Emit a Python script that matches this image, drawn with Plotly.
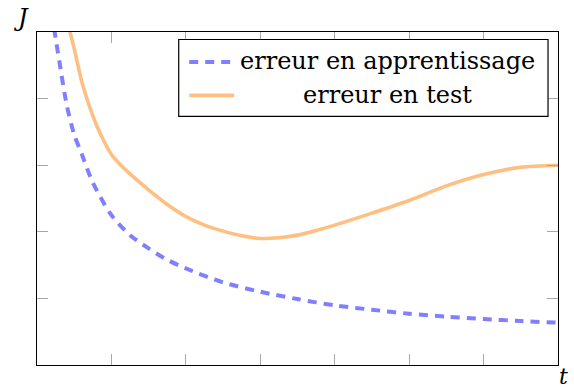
import plotly.graph_objects as go

# Training error curve
t_train = [0.23, 0.25, 0.3, 0.4, 0.5, 0.6, 0.75, 1.0, 1.25, 1.5, 1.75, 2.0,
           2.5, 3.0, 3.5, 4.0, 4.5, 5.0, 5.5, 6.0, 6.5, 7.0]
j_train = [5.05, 4.91, 4.56, 3.90, 3.46, 3.17, 2.74, 2.25, 1.95, 1.75, 1.58, 1.45,
           1.24, 1.10, 0.99, 0.895, 0.83, 0.77, 0.725, 0.69, 0.66, 0.635]

# Test error curve
t_test = [0.43, 0.5, 0.6, 0.7, 0.8, 0.9, 1.0, 1.1, 1.25, 1.5, 1.75, 2.0, 2.25,
          2.5, 2.75, 3.0, 3.25, 3.5, 3.75, 4.0, 4.5, 5.0, 5.5, 6.0, 6.5, 7.0]
j_test = [5.06, 4.75, 4.26, 3.90, 3.60, 3.36, 3.16, 3.03, 2.87, 2.63, 2.41, 2.23, 2.10,
          2.01, 1.94, 1.90, 1.91, 1.95, 2.02, 2.10, 2.28, 2.47, 2.69, 2.86, 2.97, 3.0]

legend_labels = ["erreur en apprentissage", "erreur en test"]
x_ticks = [0, 1, 2, 3, 4, 5, 6, 7]
y_ticks = [0, 1, 2, 3, 4, 5]

BLUE = "#8080ff"
ORANGE = "#ffbf80"
FONT = "DejaVu Serif"

W, H = 574, 392
L, R, T, B = 36.5, 558.5, 31.5, 365.0


def px(x):
    return (x - L) / (R - L)


def py(y):
    return (B - y) / (B - T)


fig = go.Figure()
fig.add_trace(go.Scatter(x=t_train, y=j_train, mode="lines", name=legend_labels[0],
                         line=dict(color=BLUE, width=4, dash="9px,7px",
                                   shape="spline", smoothing=0.8),
                         showlegend=False))
fig.add_trace(go.Scatter(x=t_test, y=j_test, mode="lines", name=legend_labels[1],
                         line=dict(color=ORANGE, width=3.6, shape="spline", smoothing=0.8),
                         showlegend=False))

axis_common = dict(showline=True, linecolor="black", linewidth=1.3, mirror="allticks",
                   ticks="inside", ticklen=11, tickwidth=1.2, tickcolor="#a8a8a8",
                   showticklabels=False, showgrid=False, zeroline=False)
fig.update_xaxes(range=[0, 7], tickvals=x_ticks, **axis_common)
fig.update_yaxes(range=[0, 5], tickvals=y_ticks, **axis_common)

# Legend box
shapes = [
    dict(type="rect", xref="paper", yref="paper",
         x0=px(178.5), x1=px(548.5), y0=py(116), y1=py(39),
         line=dict(color="black", width=1.2), fillcolor="white", layer="above"),
    dict(type="line", xref="paper", yref="paper",
         x0=px(189), x1=px(230), y0=py(61.5), y1=py(61.5),
         line=dict(color=BLUE, width=4, dash="9px,7px"), layer="above"),
    dict(type="line", xref="paper", yref="paper",
         x0=px(189), x1=px(234), y0=py(95), y1=py(95),
         line=dict(color=ORANGE, width=3.6), layer="above"),
]

annotations = [
    dict(text=legend_labels[0], xref="paper", yref="paper", x=px(387.5), y=py(61),
         xanchor="center", yanchor="middle", showarrow=False,
         font=dict(family=FONT, size=24, color="black")),
    dict(text=legend_labels[1], xref="paper", yref="paper", x=px(387.5), y=py(95),
         xanchor="center", yanchor="middle", showarrow=False,
         font=dict(family=FONT, size=24, color="black")),
    dict(text="<i>J</i>", xref="paper", yref="paper", x=px(20), y=py(17),
         xanchor="center", yanchor="middle", showarrow=False,
         font=dict(family=FONT, size=24, color="black")),
    dict(text="<i>t</i>", xref="paper", yref="paper", x=px(564), y=py(377),
         xanchor="center", yanchor="middle", showarrow=False,
         font=dict(family=FONT, size=22, color="black")),
]

fig.update_layout(width=W, height=H,
                  margin=dict(l=L, r=W - R, t=T, b=H - B, pad=0),
                  paper_bgcolor="white", plot_bgcolor="white",
                  shapes=shapes, annotations=annotations, showlegend=False)

fig.write_html("out.html")
